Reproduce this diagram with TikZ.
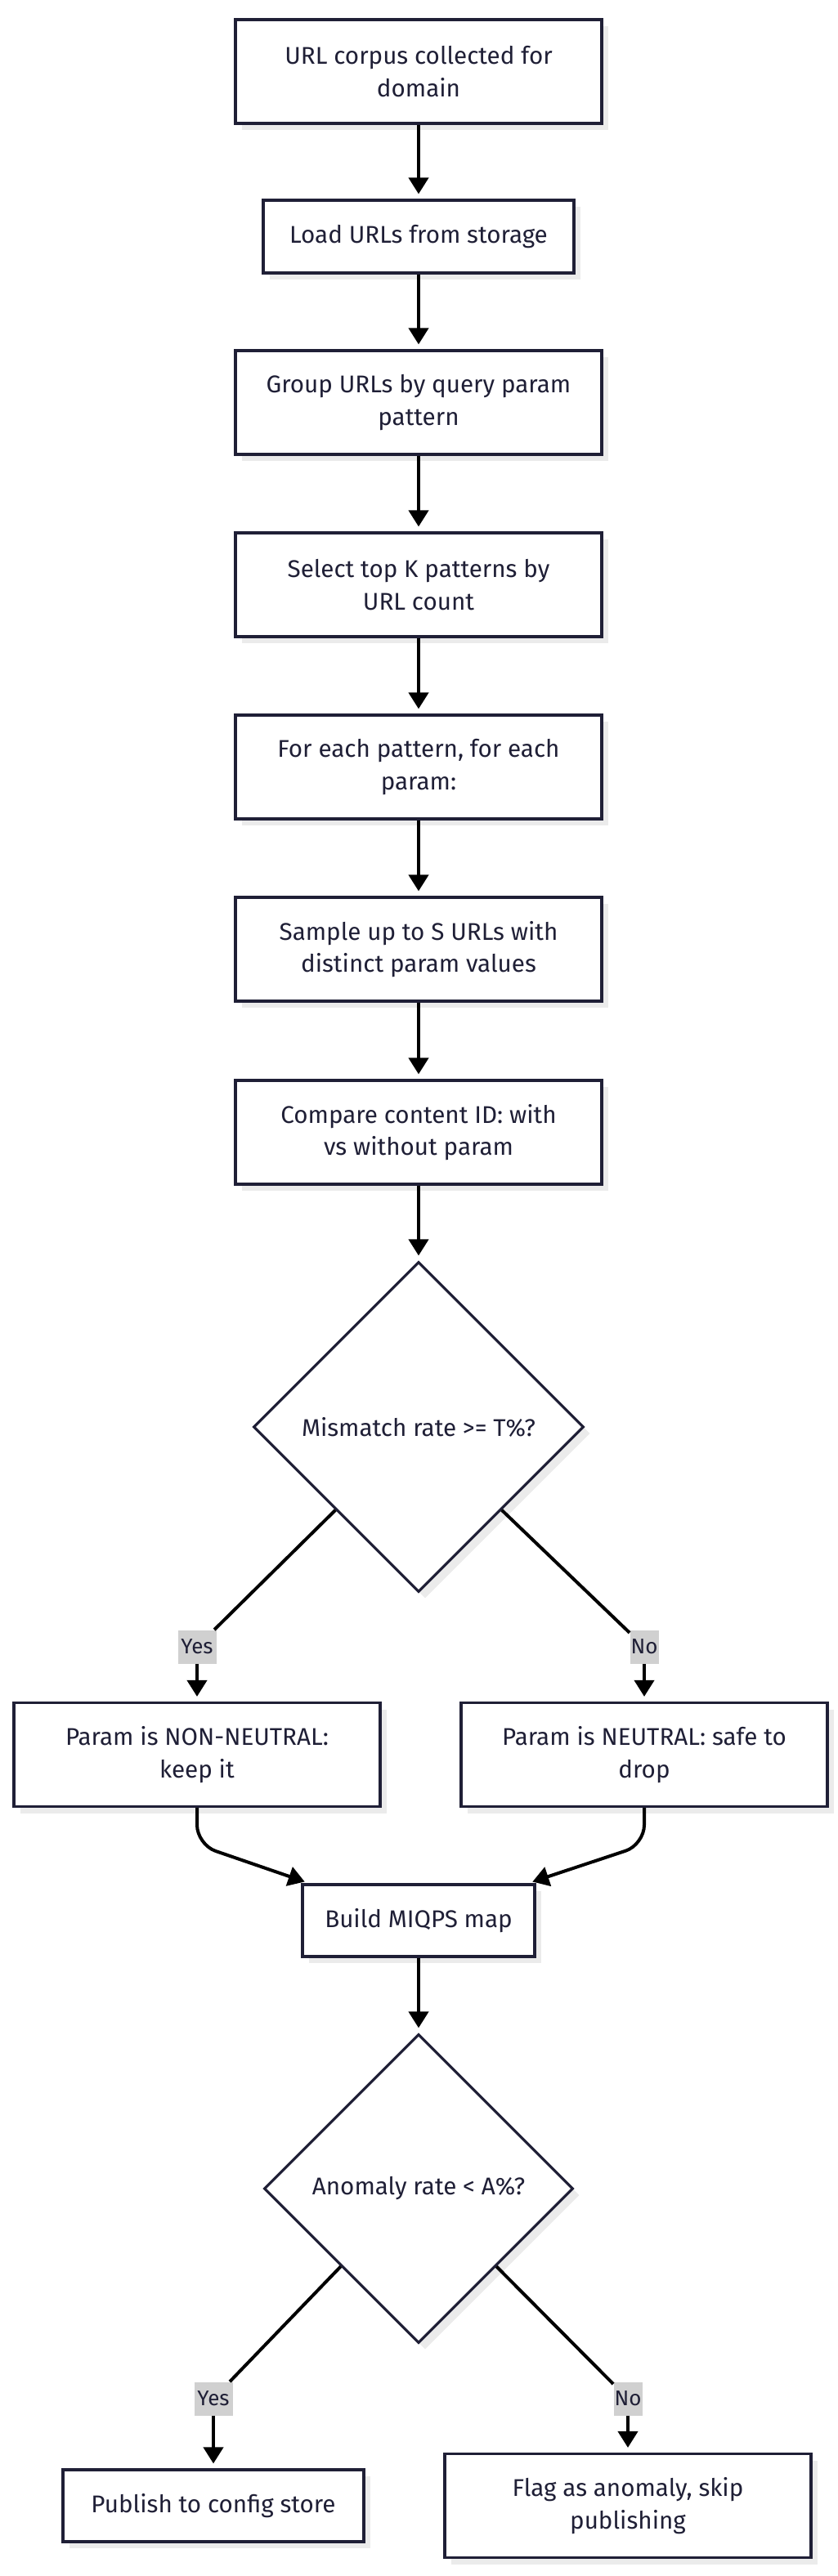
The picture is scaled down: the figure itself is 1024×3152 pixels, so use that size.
\documentclass[tikz,border=0pt]{standalone}
\usepackage{fontspec}
\setmainfont{Fira Sans}
\usetikzlibrary{shapes.geometric,arrows.meta,shadows,calc}
\definecolor{ink}{HTML}{1F1F36}
\definecolor{lab}{HTML}{D0D0D0}
\definecolor{shad}{HTML}{EBEBEB}
\begin{document}
\begin{tikzpicture}[x=0.5pt,y=-0.5pt,
  base/.style={draw=ink, line width=1.6pt, fill=white, text=ink, align=center,
    font=\fontsize{14.8}{19.6}\selectfont, inner sep=0pt,
    drop shadow={shadow xshift=4pt, shadow yshift=-4pt, fill=shad, opacity=1}},
  box/.style={base, rectangle, minimum width=224pt, minimum height=63.5pt},
  smallbox/.style={base, rectangle, minimum height=44pt},
  decision/.style={base, diamond, aspect=1},
  lbl/.style={fill=lab, text=ink, inner sep=0pt, minimum height=20.5pt,
    font=\fontsize{13}{19.5}\selectfont},
  arr/.style={draw=black, line width=2pt, -{Triangle[length=10pt,width=12pt]}, shorten >=3pt},
  ln/.style={draw=black, line width=2pt}
]
\fill[white] (0,0) rectangle (1024,3152);
\useasboundingbox (0,0) rectangle (1024,3152);

\node[box] (n1) at (512,87.5) {URL corpus collected for\\domain};
\node[smallbox, minimum width=190pt, minimum height=44.5pt] (n2) at (512,289.5) {Load URLs from storage};
\node[box] (n3) at (512,492.5) {Group URLs by query param\\pattern};
\node[box] (n4) at (512,715.5) {Select top K patterns by\\URL count};
\node[box] (n5) at (512,938.5) {For each pattern, for each\\param:};
\node[box] (n6) at (512,1161.5) {Sample up to S URLs with\\distinct param values};
\node[box] (n7) at (512,1385.5) {Compare content ID: with\\vs without param};
\node[decision, minimum width=202pt, minimum height=202pt] (d1) at (512,1746) {Mismatch rate >= T\%?};

\node[lbl, minimum width=23.5pt] (y1) at (241,2015) {Yes};
\node[lbl, minimum width=17.5pt] (no1) at (788,2015) {No};

\node[box] (byes) at (241,2147) {Param is NON-NEUTRAL:\\keep it};
\node[box] (bno) at (788,2147) {Param is NEUTRAL: safe to\\drop};
\node[smallbox, minimum width=142pt] (build) at (512,2350) {Build MIQPS map};
\node[decision, minimum width=189pt, minimum height=189pt] (d2) at (512,2678) {Anomaly rate < A\%?};

\node[lbl, minimum width=23.5pt] (y2) at (261,2935) {Yes};
\node[lbl, minimum width=17.5pt] (no2) at (768,2935) {No};

\node[smallbox, minimum width=184pt] (pub) at (261,3066) {Publish to config store};
\node[box] (flag) at (768,3066) {Flag as anomaly, skip\\publishing};

\draw[arr] (n1) -- (n2);
\draw[arr] (n2) -- (n3);
\draw[arr] (n3) -- (n4);
\draw[arr] (n4) -- (n5);
\draw[arr] (n5) -- (n6);
\draw[arr] (n6) -- (n7);
\draw[arr] (n7) -- (d1);

\draw[ln] (d1.south west) -- (y1);
\draw[arr] (y1) -- (byes);
\draw[ln] (d1.south east) -- (no1);
\draw[arr] (no1) -- (bno);

\draw[arr, rounded corners=12pt] (byes.south) -- ++(0,45) -- ($(build.north west)+(10,0)$);
\draw[arr, rounded corners=12pt] (bno.south) -- ++(0,45) -- ($(build.north east)+(-10,0)$);

\draw[arr] (build) -- (d2);

\draw[ln] (d2.south west) -- (y2);
\draw[arr] (y2) -- (pub);
\draw[ln] (d2.south east) -- (no2);
\draw[arr] (no2) -- (flag);
\end{tikzpicture}
\end{document}
